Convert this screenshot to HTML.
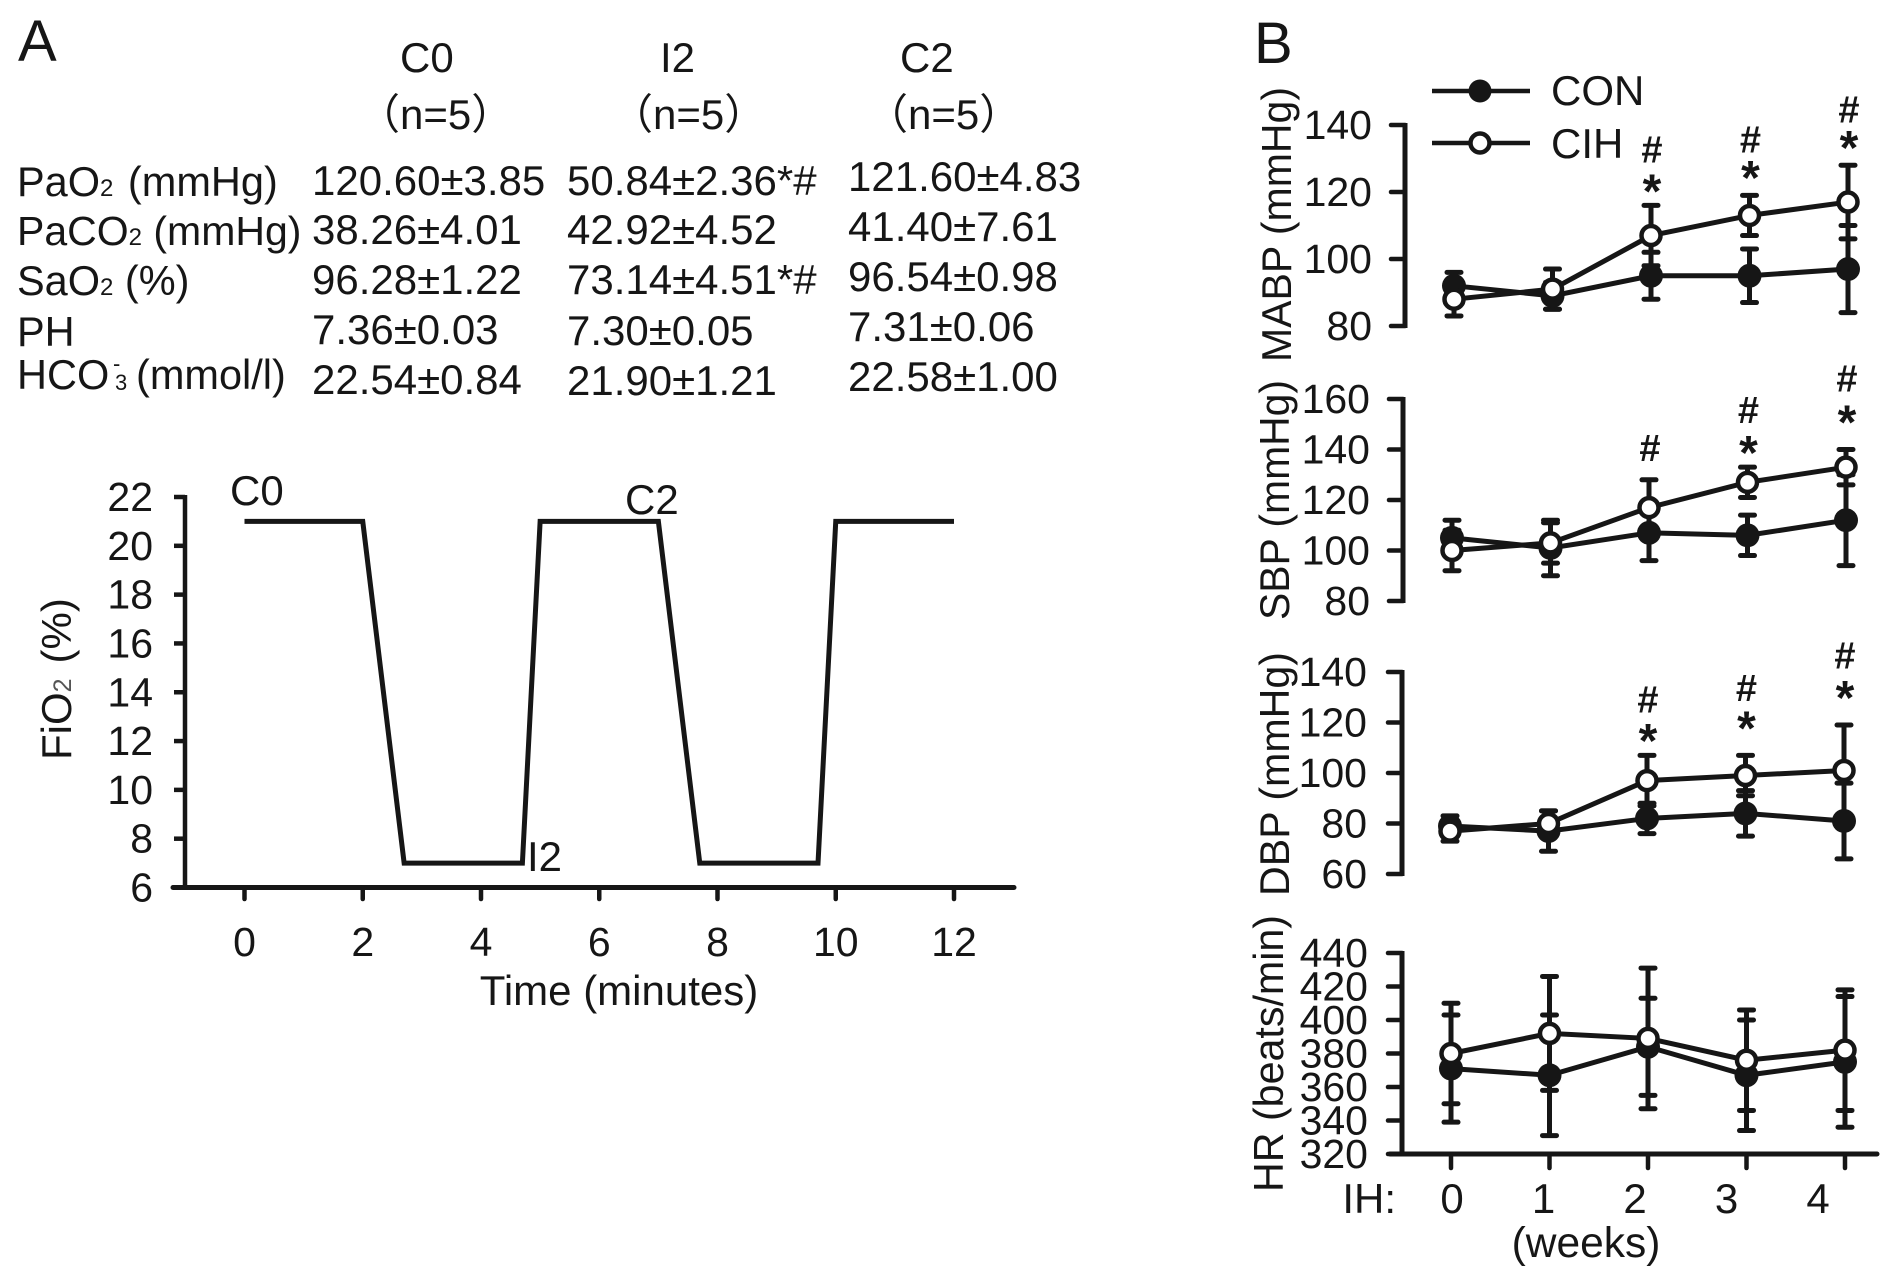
<!DOCTYPE html>
<html>
<head>
<meta charset="utf-8">
<title>Figure</title>
<style>
html,body{margin:0;padding:0;background:#fff;}
svg{display:block;}
text{font-family:"Liberation Sans","Noto Sans CJK SC",sans-serif;fill:#161616;}
</style>
</head>
<body>
<svg id="fig" xmlns="http://www.w3.org/2000/svg" width="1890" height="1270" viewBox="0 0 1890 1270">
<rect x="0" y="0" width="1890" height="1270" fill="#fff"/>
<text x="18" y="61" font-size="58">A</text>
<text x="1254" y="63" font-size="58">B</text>

<g font-size="42">
<text x="400" y="72" font-size="42">C0</text>
<text x="660" y="72" font-size="42">I2</text>
<text x="900" y="72" font-size="42">C2</text>
<text x="358" y="129" font-size="42">（n=5）</text>
<text x="611" y="129" font-size="42">（n=5）</text>
<text x="866" y="129" font-size="42">（n=5）</text>

<text x="17" y="196" font-size="41.5">PaO<tspan font-size="24">2</tspan><tspan dx="3"> (mmHg)</tspan></text>
<text x="17" y="245" font-size="41">PaCO<tspan font-size="24">2</tspan> (mmHg)</text>
<text x="17" y="295" font-size="41.5">SaO<tspan font-size="24">2</tspan> (%)</text>
<text x="17" y="346" font-size="41.5">PH</text>
<text x="17" y="389" font-size="41.5">HCO<tspan font-size="22" x="113" y="371">-</tspan><tspan font-size="22" x="115" y="390">3</tspan><tspan x="136" y="389">(mmol/l)</tspan></text>

<text x="312" y="195">120.60±3.85</text>
<text x="567" y="195">50.84±2.36*#</text>
<text x="848" y="191">121.60±4.83</text>
<text x="312" y="244">38.26±4.01</text>
<text x="567" y="244">42.92±4.52</text>
<text x="848" y="241">41.40±7.61</text>
<text x="312" y="294">96.28±1.22</text>
<text x="567" y="294">73.14±4.51*#</text>
<text x="848" y="291">96.54±0.98</text>
<text x="312" y="344">7.36±0.03</text>
<text x="567" y="345">7.30±0.05</text>
<text x="848" y="341">7.31±0.06</text>
<text x="312" y="394">22.54±0.84</text>
<text x="567" y="395">21.90±1.21</text>
<text x="848" y="391">22.58±1.00</text>
</g>

<g id="panelA"></g>
<text transform="translate(71,760) rotate(-90)" font-size="42">FiO<tspan font-size="25" fill="#555">2</tspan><tspan dx="15">(%)</tspan></text>
<text x="619" y="1005" font-size="42" text-anchor="middle">Time (minutes)</text>
<text x="230" y="505" font-size="42">C0</text>
<text x="625" y="514" font-size="42">C2</text>
<text x="527" y="871" font-size="42">I2</text>

<g id="panelB"></g>

<text transform="translate(1291,362) rotate(-90)" font-size="42" textLength="275" lengthAdjust="spacingAndGlyphs">MABP (mmHg)</text>
<text transform="translate(1289,620) rotate(-90)" font-size="42" textLength="240" lengthAdjust="spacingAndGlyphs">SBP  (mmHg)</text>
<text transform="translate(1289,896) rotate(-90)" font-size="42" textLength="244" lengthAdjust="spacingAndGlyphs">DBP  (mmHg)</text>
<text transform="translate(1283,1192) rotate(-90)" font-size="42" textLength="277" lengthAdjust="spacingAndGlyphs">HR (beats/min)</text>

<text x="1396" y="1213" font-size="42" text-anchor="end">IH:</text>
<text x="1586" y="1257" font-size="42.5" text-anchor="middle">(weeks)</text>

<g>
<line x1="1432" y1="91" x2="1530" y2="91" stroke="#161616" stroke-width="4.5"/>
<circle cx="1480" cy="91" r="11.5" fill="#161616"/>
<text x="1551" y="105" font-size="42">CON</text>
<line x1="1432" y1="143" x2="1530" y2="143" stroke="#161616" stroke-width="4.5"/>
<circle cx="1480" cy="143" r="9.5" fill="#fff" stroke="#161616" stroke-width="4.5"/>
<text x="1551" y="158" font-size="42">CIH</text>
</g>
</svg>

<script>
// ---- Panel A data ----
var fioTime = [0, 2, 2.7, 4.7, 5, 7, 7.7, 9.7, 10, 12];
var fioValue = [21, 21, 7, 7, 21, 21, 7, 7, 21, 21];
var fioYTicks = [6, 8, 10, 12, 14, 16, 18, 20, 22];
var fioXTicks = [0, 2, 4, 6, 8, 10, 12];

// ---- Panel B data ----
var weeks = [0, 1, 2, 3, 4];

var mabpTicks = [80, 100, 120, 140];
var mabpCon = [92, 89, 95, 95, 97];
var mabpConErr = [4, 4, 7, 8, 13];
var mabpCih = [88, 91, 107, 113, 117];
var mabpCihErr = [5, 6, 9, 6, 11];
var mabpHash = [null, null, 133, 136, 145];
var mabpStar = [null, null, 122, 126, 135];

var sbpTicks = [80, 100, 120, 140, 160];
var sbpCon = [105, 101, 107, 106, 112];
var sbpConErr = [7, 11, 11, 8, 18];
var sbpCih = [100, 103, 117, 127, 133];
var sbpCihErr = [8, 8, 11, 6, 7];
var sbpHash = [null, null, 141, 156, 168.5];
var sbpStar = [null, null, null, 141, 153];

var dbpTicks = [60, 80, 100, 120, 140];
var dbpCon = [79, 77, 82, 84, 81];
var dbpConErr = [4, 8, 6, 9, 15];
var dbpCih = [77, 80, 97, 99, 101];
var dbpCihErr = [4, 5, 10, 8, 18];
var dbpHash = [null, null, 129.5, 134, 147];
var dbpStar = [null, null, 115, 120, 132];

var hrTicks = [320, 340, 360, 380, 400, 420, 440];
var hrCon = [371, 367, 384, 367, 375];
var hrConErr = [32, 36, 29, 33, 39];
var hrCih = [380, 392, 389, 376, 382];
var hrCihErr = [30, 34, 42, 30, 36];
var hrLabels = ['0', '1', '2', '3', '4'];

var INK = '#161616';
var NS = 'http://www.w3.org/2000/svg';

function make(parent, tag, attrs, txt) {
  var el = document.createElementNS(NS, tag);
  for (var k in attrs) el.setAttribute(k, attrs[k]);
  if (txt !== undefined) el.textContent = txt;
  parent.appendChild(el);
  return el;
}
function tag(el, name) {
  
  
  return el;
}

// ---- Panel A ----
(function () {
  var g = document.getElementById('panelA');
  var X0 = 244.5, X12 = 954, Y6 = 887.5, Y22 = 497, AX = 185;
  function sx(t) { return X0 + (t - 0) * (X12 - X0) / 12; }
  function sy(v) { return Y6 - (v - 6) * (Y6 - Y22) / 16; }

  var yAxis = make(g, 'line', {x1: AX, y1: sy(22) - 2, x2: AX, y2: sy(6), stroke: INK, 'stroke-width': 4.5});
  tag(yAxis, 'fio2-y-axis');
  var xAxis = make(g, 'line', {x1: 173, y1: sy(6), x2: 1014, y2: sy(6), stroke: INK, 'stroke-width': 5, 'stroke-linecap': 'round'});
  tag(xAxis, 'fio2-x-axis');

  fioYTicks.forEach(function (v) {
    var tick = make(g, 'line', {x1: 174, y1: sy(v), x2: AX, y2: sy(v), stroke: INK, 'stroke-width': 4.5});
    tag(tick, 'fio2-y-tick');
    var label = make(g, 'text', {x: 153, y: sy(v) + 14, 'font-size': 41, 'text-anchor': 'end'}, String(v));
    tag(label, 'fio2-y-tick-label');
  });
  fioXTicks.forEach(function (t) {
    var tick = make(g, 'line', {x1: sx(t), y1: sy(6), x2: sx(t), y2: 899, stroke: INK, 'stroke-width': 4.5, 'stroke-linecap': 'round'});
    tag(tick, 'fio2-x-tick');
    var label = make(g, 'text', {x: sx(t), y: 956, 'font-size': 41, 'text-anchor': 'middle'}, String(t));
    tag(label, 'fio2-x-tick-label');
  });

  var pts = fioTime.map(function (t, i) { return sx(t) + ',' + sy(fioValue[i]); }).join(' ');
  var line = make(g, 'polyline', {points: pts, fill: 'none', stroke: INK, 'stroke-width': 5, 'stroke-linejoin': 'miter'});
  tag(line, 'fio2-line');
})();

// ---- Panel B ----
function drawPanel(cfg) {
  var root = document.getElementById('panelB');
  var g = make(root, 'g', {});
  tag(g, cfg.name + '-chart');
  var lo = cfg.ticks[0], hi = cfg.ticks[cfg.ticks.length - 1];
  function sy(v) { return cfg.yBottom - (v - lo) * (cfg.yBottom - cfg.yTop) / (hi - lo); }
  function sx(w) { return cfg.x0 + w * cfg.step; }

  var yAxis = make(g, 'line', {x1: cfg.axisX, y1: cfg.yTop - 2, x2: cfg.axisX, y2: cfg.yBottom + 2, stroke: INK, 'stroke-width': 5});
  tag(yAxis, cfg.name + '-y-axis');
  cfg.ticks.forEach(function (v) {
    var tick = make(g, 'line', {x1: cfg.axisX - 14, y1: sy(v), x2: cfg.axisX, y2: sy(v), stroke: INK, 'stroke-width': 4.5, 'stroke-linecap': 'round'});
    tag(tick, cfg.name + '-y-tick');
    var label = make(g, 'text', {x: cfg.labelX, y: sy(v) + 14, 'font-size': 41, 'text-anchor': 'end'}, String(v));
    tag(label, cfg.name + '-y-tick-label');
  });

  function errorBars(vals, errs, series) {
    vals.forEach(function (v, i) {
      var x = sx(weeks[i]);
      var top = sy(v + errs[i]), bot = sy(v - errs[i]);
      var stem = make(g, 'line', {x1: x, y1: top, x2: x, y2: bot, stroke: INK, 'stroke-width': 5});
      tag(stem, cfg.name + '-' + series + '-error-bar');
      var capT = make(g, 'line', {x1: x - 7, y1: top, x2: x + 7, y2: top, stroke: INK, 'stroke-width': 5, 'stroke-linecap': 'round'});
      tag(capT, cfg.name + '-' + series + '-error-cap');
      var capB = make(g, 'line', {x1: x - 7, y1: bot, x2: x + 7, y2: bot, stroke: INK, 'stroke-width': 5, 'stroke-linecap': 'round'});
      tag(capB, cfg.name + '-' + series + '-error-cap');
    });
  }
  function seriesLine(vals, series) {
    var pts = vals.map(function (v, i) { return sx(weeks[i]) + ',' + sy(v); }).join(' ');
    var line = make(g, 'polyline', {points: pts, fill: 'none', stroke: INK, 'stroke-width': 5});
    tag(line, cfg.name + '-' + series + '-line');
  }

  errorBars(cfg.con, cfg.conErr, 'con');
  errorBars(cfg.cih, cfg.cihErr, 'cih');
  seriesLine(cfg.con, 'con');
  seriesLine(cfg.cih, 'cih');

  cfg.con.forEach(function (v, i) {
    var m = make(g, 'circle', {cx: sx(weeks[i]), cy: sy(v), r: 12, fill: INK});
    tag(m, cfg.name + '-con-point');
  });
  cfg.cih.forEach(function (v, i) {
    var m = make(g, 'circle', {cx: sx(weeks[i]), cy: sy(v), r: 9.5, fill: '#fff', stroke: INK, 'stroke-width': 4.5});
    tag(m, cfg.name + '-cih-point');
  });

  (cfg.hash || []).forEach(function (v, i) {
    if (v === null) return;
    var t = make(g, 'text', {x: sx(weeks[i]) + 1, y: sy(v) + 14, 'font-size': 38, 'font-weight': 'bold', 'text-anchor': 'middle'}, '#');
    tag(t, cfg.name + '-significance-hash');
  });
  (cfg.star || []).forEach(function (v, i) {
    if (v === null) return;
    var t = make(g, 'text', {x: sx(weeks[i]) + 1, y: sy(v) + 22, 'font-size': 48, 'font-weight': 'bold', 'text-anchor': 'middle'}, '*');
    tag(t, cfg.name + '-significance-star');
  });
}

drawPanel({name: 'mabp', ticks: mabpTicks, con: mabpCon, conErr: mabpConErr, cih: mabpCih, cihErr: mabpCihErr, hash: mabpHash, star: mabpStar,
  yTop: 125, yBottom: 326, axisX: 1405, labelX: 1372, x0: 1454, step: 98.5});
drawPanel({name: 'sbp', ticks: sbpTicks, con: sbpCon, conErr: sbpConErr, cih: sbpCih, cihErr: sbpCihErr, hash: sbpHash, star: sbpStar,
  yTop: 399, yBottom: 601, axisX: 1403, labelX: 1370, x0: 1452, step: 98.5});
drawPanel({name: 'dbp', ticks: dbpTicks, con: dbpCon, conErr: dbpConErr, cih: dbpCih, cihErr: dbpCihErr, hash: dbpHash, star: dbpStar,
  yTop: 672, yBottom: 874, axisX: 1402, labelX: 1367, x0: 1450, step: 98.5});
drawPanel({name: 'hr', ticks: hrTicks, con: hrCon, conErr: hrConErr, cih: hrCih, cihErr: hrCihErr,
  yTop: 953, yBottom: 1154, axisX: 1402, labelX: 1368, x0: 1451, step: 98.5});

// HR shared x axis
(function () {
  var root = document.getElementById('panelB');
  var ax = make(root, 'line', {x1: 1390, y1: 1154, x2: 1877, y2: 1154, stroke: INK, 'stroke-width': 5, 'stroke-linecap': 'round'});
  tag(ax, 'hr-x-axis');
  var labelStep = 91.5;
  weeks.forEach(function (w, i) {
    var x = 1451 + w * 98.5;
    var tick = make(root, 'line', {x1: x, y1: 1154, x2: x, y2: 1168, stroke: INK, 'stroke-width': 4.5, 'stroke-linecap': 'round'});
    tag(tick, 'hr-x-tick');
    var label = make(root, 'text', {x: 1452 + w * labelStep, y: 1213, 'font-size': 42, 'text-anchor': 'middle'}, hrLabels[i]);
    tag(label, 'hr-x-tick-label');
  });
})();
</script>
</body>
</html>
